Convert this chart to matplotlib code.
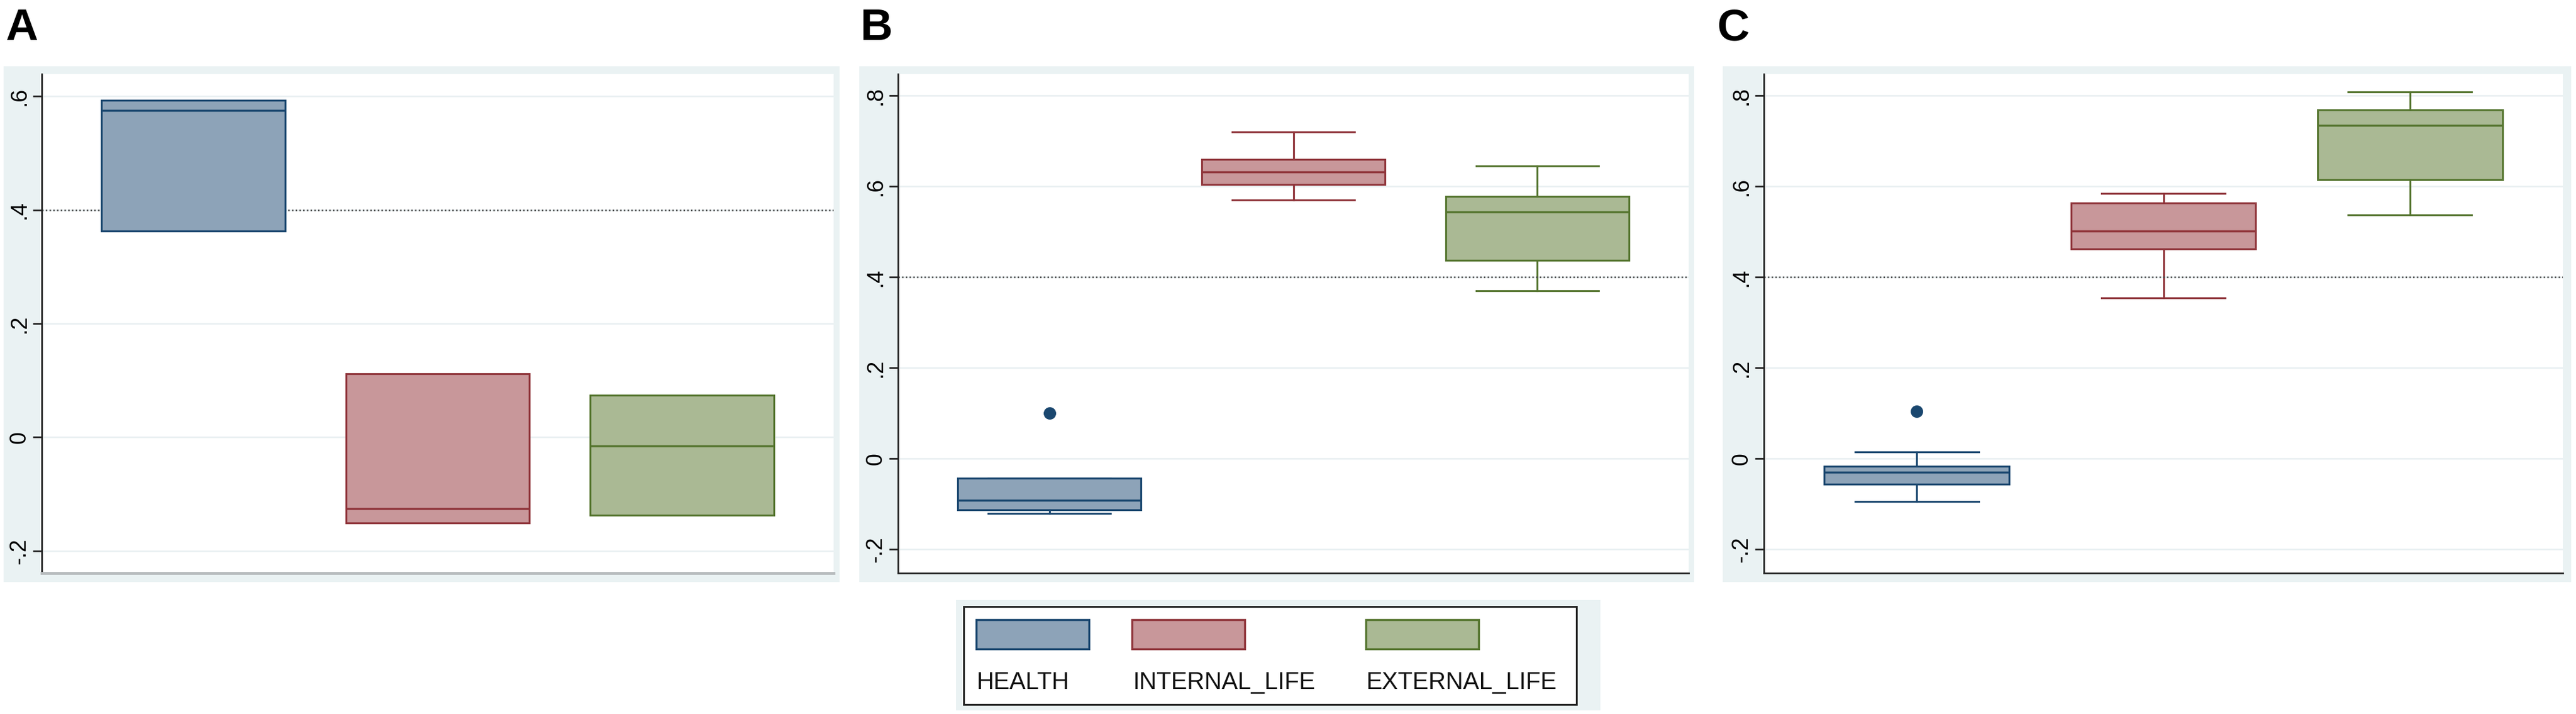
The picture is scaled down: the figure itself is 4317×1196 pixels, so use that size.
import matplotlib
matplotlib.use("Agg")
import matplotlib.pyplot as plt
from matplotlib.patches import Rectangle
from matplotlib.ticker import FixedLocator, FuncFormatter

plt.rcParams['font.family'] = ['Liberation Sans', 'DejaVu Sans']

groups = ["HEALTH", "INTERNAL_LIFE", "EXTERNAL_LIFE"]
edge_colors = ["#1a476f", "#90353b", "#55752f"]
fill_colors = ["#8da3b8", "#c8979a", "#aab994"]

# panel A - no whiskers, box only
a_q1 = [0.363, -0.151, -0.137]
a_med = [0.575, -0.126, -0.015]
a_q3 = [0.593, 0.112, 0.074]
a_lo = [0.363, -0.151, -0.137]
a_hi = [0.593, 0.112, 0.074]
a_out = [[], [], []]

# panel B
b_q1 = [-0.113, 0.605, 0.438]
b_med = [-0.092, 0.632, 0.544]
b_q3 = [-0.043, 0.660, 0.578]
b_lo = [-0.121, 0.570, 0.371]
b_hi = [-0.043, 0.720, 0.646]
b_out = [[0.101], [], []]

# panel C
c_q1 = [-0.056, 0.463, 0.615]
c_med = [-0.030, 0.502, 0.735]
c_q3 = [-0.016, 0.564, 0.769]
c_lo = [-0.094, 0.355, 0.537]
c_hi = [0.015, 0.585, 0.809]
c_out = [[0.105], [], []]

ticks_a = [-0.2, 0, 0.2, 0.4, 0.6]
ticks_bc = [-0.2, 0, 0.2, 0.4, 0.6, 0.8]
ref_line = 0.4

W, H = 4317, 1196
fig = plt.figure(figsize=(W / 100, H / 100), dpi=100)
frame_col = "#eaf2f3"


def fig_rect(x0, y0, x1, y1):
    # pixel box (top-left origin) -> figure fraction
    return [x0 / W, 1 - y1 / H, (x1 - x0) / W, (y1 - y0) / H]


def stata_fmt(v, pos):
    s = f"{v:g}"
    if s == "0" or s == "-0":
        return "0"
    return s.replace("0.", ".")


panels = [
    ("A", (6, 111, 1407, 975), (70, 124, 1397, 960), (-0.239, 0.639), ticks_a,
     a_q1, a_med, a_q3, a_lo, a_hi, a_out, 9),
    ("B", (1440, 111, 2839, 975), (1505, 124, 2830, 960), (-0.252, 0.848), ticks_bc,
     b_q1, b_med, b_q3, b_lo, b_hi, b_out, 1442),
    ("C", (2887, 111, 4309, 975), (2956, 124, 4295, 960), (-0.252, 0.848), ticks_bc,
     c_q1, c_med, c_q3, c_lo, c_hi, c_out, 2878),
]

for letter, frame, plot, ylim, ticks, q1, med, q3, lo, hi, out, lx in panels:
    fx = fig_rect(*frame)
    fig.add_artist(Rectangle((fx[0], fx[1]), fx[2], fx[3], transform=fig.transFigure,
                             facecolor=frame_col, edgecolor="none", zorder=0))
    ax = fig.add_axes(fig_rect(*plot))
    ax.set_facecolor("white")

    stats = []
    for i in range(len(groups)):
        stats.append(dict(med=med[i], q1=q1[i], q3=q3[i], whislo=lo[i], whishi=hi[i],
                          fliers=out[i]))
    bp = ax.bxp(stats, positions=[1, 2, 3], widths=0.75, capwidths=0.5,
                patch_artist=True, showcaps=(letter != "A"))
    for i in range(len(groups)):
        bp['boxes'][i].set(facecolor=fill_colors[i], edgecolor=edge_colors[i],
                           linewidth=2.3, zorder=3)
        bp['medians'][i].set(color=edge_colors[i], linewidth=2.5, zorder=4)
        for w in bp['whiskers'][2 * i:2 * i + 2]:
            w.set(color=edge_colors[i], linewidth=2.3)
        if bp['caps']:
            for c in bp['caps'][2 * i:2 * i + 2]:
                c.set(color=edge_colors[i], linewidth=2.3)
        bp['fliers'][i].set(marker='o', markerfacecolor=edge_colors[i],
                            markeredgecolor=edge_colors[i], markersize=14)

    ax.axhline(ref_line, color="#444444", linestyle=(0, (1, 1.5)), linewidth=1.8, zorder=2)

    ax.set_xlim(0.38, 3.62)
    ax.set_ylim(*ylim)
    ax.yaxis.set_major_locator(FixedLocator(ticks))
    ax.yaxis.set_major_formatter(FuncFormatter(stata_fmt))
    ax.set_xticks([])
    ax.tick_params(axis='y', length=11, width=2, color="#222222", pad=3,
                   labelsize=27, labelrotation=90)
    for lab in ax.get_yticklabels():
        lab.set_va('center')
    ax.yaxis.grid(True, color="#e8eff1", linewidth=1.8)
    ax.set_axisbelow(True)
    for side in ["top", "right"]:
        ax.spines[side].set_visible(False)
    ax.spines["left"].set(color="#222222", linewidth=2)
    if letter == "A":
        ax.spines["bottom"].set(color="#b8bcbe", linewidth=3.5)
    else:
        ax.spines["bottom"].set(color="#222222", linewidth=2)

    fig.text(lx / W, 1 - 67 / H, letter, fontsize=54, fontweight="bold",
             ha="left", va="baseline")

# legend
lg = fig_rect(1602, 1005, 2682, 1190)
fig.add_artist(Rectangle((lg[0], lg[1]), lg[2], lg[3], transform=fig.transFigure,
                         facecolor=frame_col, edgecolor="none", zorder=0))
lax = fig.add_axes(fig_rect(1615, 1016, 2642, 1180))
lax.set_xlim(1615, 2642)
lax.set_ylim(1180, 1016)
lax.set_xticks([])
lax.set_yticks([])
for s in lax.spines.values():
    s.set(color="#222222", linewidth=2.2)
key_x = [1636, 1897, 2289]
for i, name in enumerate(groups):
    lax.add_patch(Rectangle((key_x[i], 1038), 189, 49, facecolor=fill_colors[i],
                            edgecolor=edge_colors[i], linewidth=2.5))
    lax.text(key_x[i] + 1, 1154, name, fontsize=29, ha="left", va="baseline",
             color="#111111")

fig.savefig("out.png", dpi=100)
